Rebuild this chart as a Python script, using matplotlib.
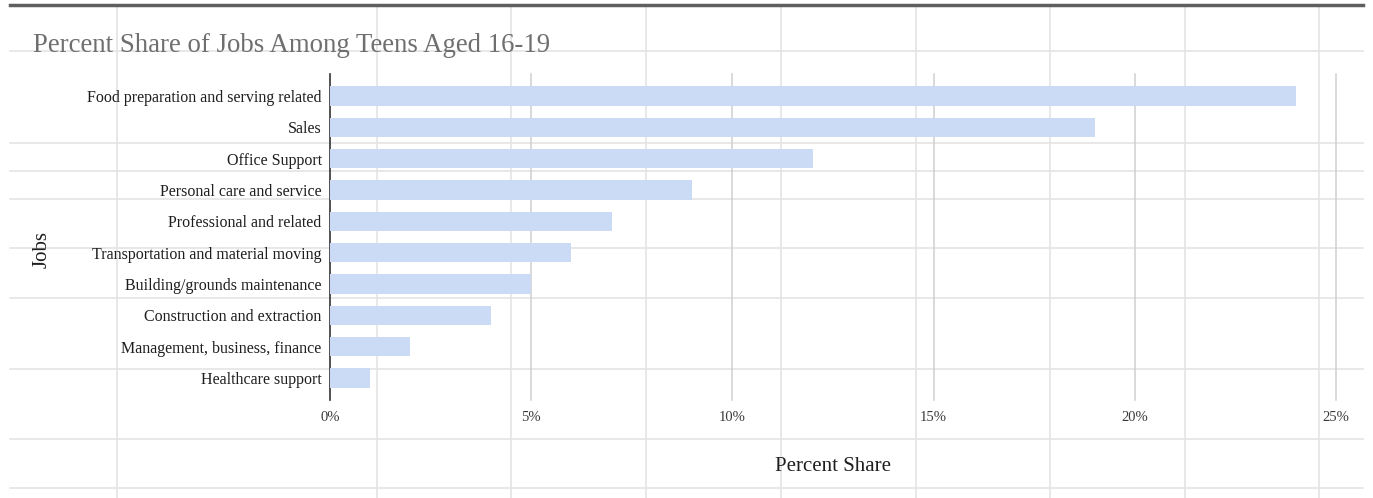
import matplotlib
matplotlib.use("Agg")
import matplotlib.pyplot as plt
from matplotlib.lines import Line2D
from matplotlib.ticker import FuncFormatter

plt.rcParams["font.family"] = ["Liberation Serif", "DejaVu Serif"]

# data
jobs = [
    "Food preparation and serving related",
    "Sales",
    "Office Support",
    "Personal care and service",
    "Professional and related",
    "Transportation and material moving",
    "Building/grounds maintenance",
    "Construction and extraction",
    "Management, business, finance",
    "Healthcare support",
]
share = [24, 19, 12, 9, 7, 6, 5, 4, 2, 1]
xticks = [0, 5, 10, 15, 20, 25]

W, H = 1373, 498
fig = plt.figure(figsize=(W / 100, H / 100), dpi=100)
fig.patch.set_facecolor("white")


def px(x, y):
    return x / W, 1 - y / H


# spreadsheet cells behind the chart
sheet_c = "#e4e4e4"
for yy in [51, 143, 171, 199, 248, 298, 369, 439, 488]:
    (x0, y0), (x1, _) = px(10, yy), px(1363, yy)
    fig.add_artist(Line2D([x0, x1], [y0, y0], color=sheet_c, lw=1.2, zorder=0))
for xx in [117, 377, 511, 646, 781, 916, 1050, 1185, 1319]:
    (x0, y0), (_, y1) = px(xx, 7), px(xx, 498)
    fig.add_artist(Line2D([x0, x0], [y0, y1], color=sheet_c, lw=1.2, zorder=0))
fig.add_artist(Line2D([px(10, 5)[0], px(1363, 5)[0]], [px(10, 5)[1]] * 2,
                      color="#5f5f5f", lw=2.5, zorder=1))

# chart area
left, top = px(330, 74)
right, bottom = px(1336, 400)
ax = fig.add_axes([left, bottom, right - left, top - bottom])
ax.patch.set_alpha(0)

ypos = list(range(len(jobs)))
ax.barh(ypos, share, height=0.62, color="#cbdaf5", zorder=3)

ax.set_xlim(0, 25)
ax.set_ylim(9.7, -0.7)
ax.set_xticks(xticks)
ax.xaxis.set_major_formatter(FuncFormatter(lambda v, p: f"{v:.0f}%"))
ax.set_yticks(ypos)
ax.set_yticklabels(jobs)
ax.tick_params(axis="x", length=0, pad=8, labelsize=10.5, labelcolor="#3a3a3a")
ax.tick_params(axis="y", length=0, pad=6, labelsize=11.5, labelcolor="#1e1e1e")

for v in xticks[1:]:
    ax.axvline(v, color="#cfcfcf", lw=1.1, zorder=1, clip_on=False)
ax.axvline(0, color="#333333", lw=1.2, zorder=2, clip_on=False)

for s in ax.spines.values():
    s.set_visible(False)

tx, ty = px(33, 46)
fig.text(tx, ty, "Percent Share of Jobs Among Teens Aged 16-19", fontsize=19.3,
         color="#6f6f6f", ha="left", va="center")
jx, jy = px(42, 250)
fig.text(jx, jy, "Jobs", fontsize=15, rotation=90, ha="center", va="center",
         color="#1e1e1e")
lx, ly = px(833, 466)
fig.text(lx, ly, "Percent Share", fontsize=15, ha="center", va="center",
         color="#1e1e1e")

fig.savefig("out.png", dpi=100)
